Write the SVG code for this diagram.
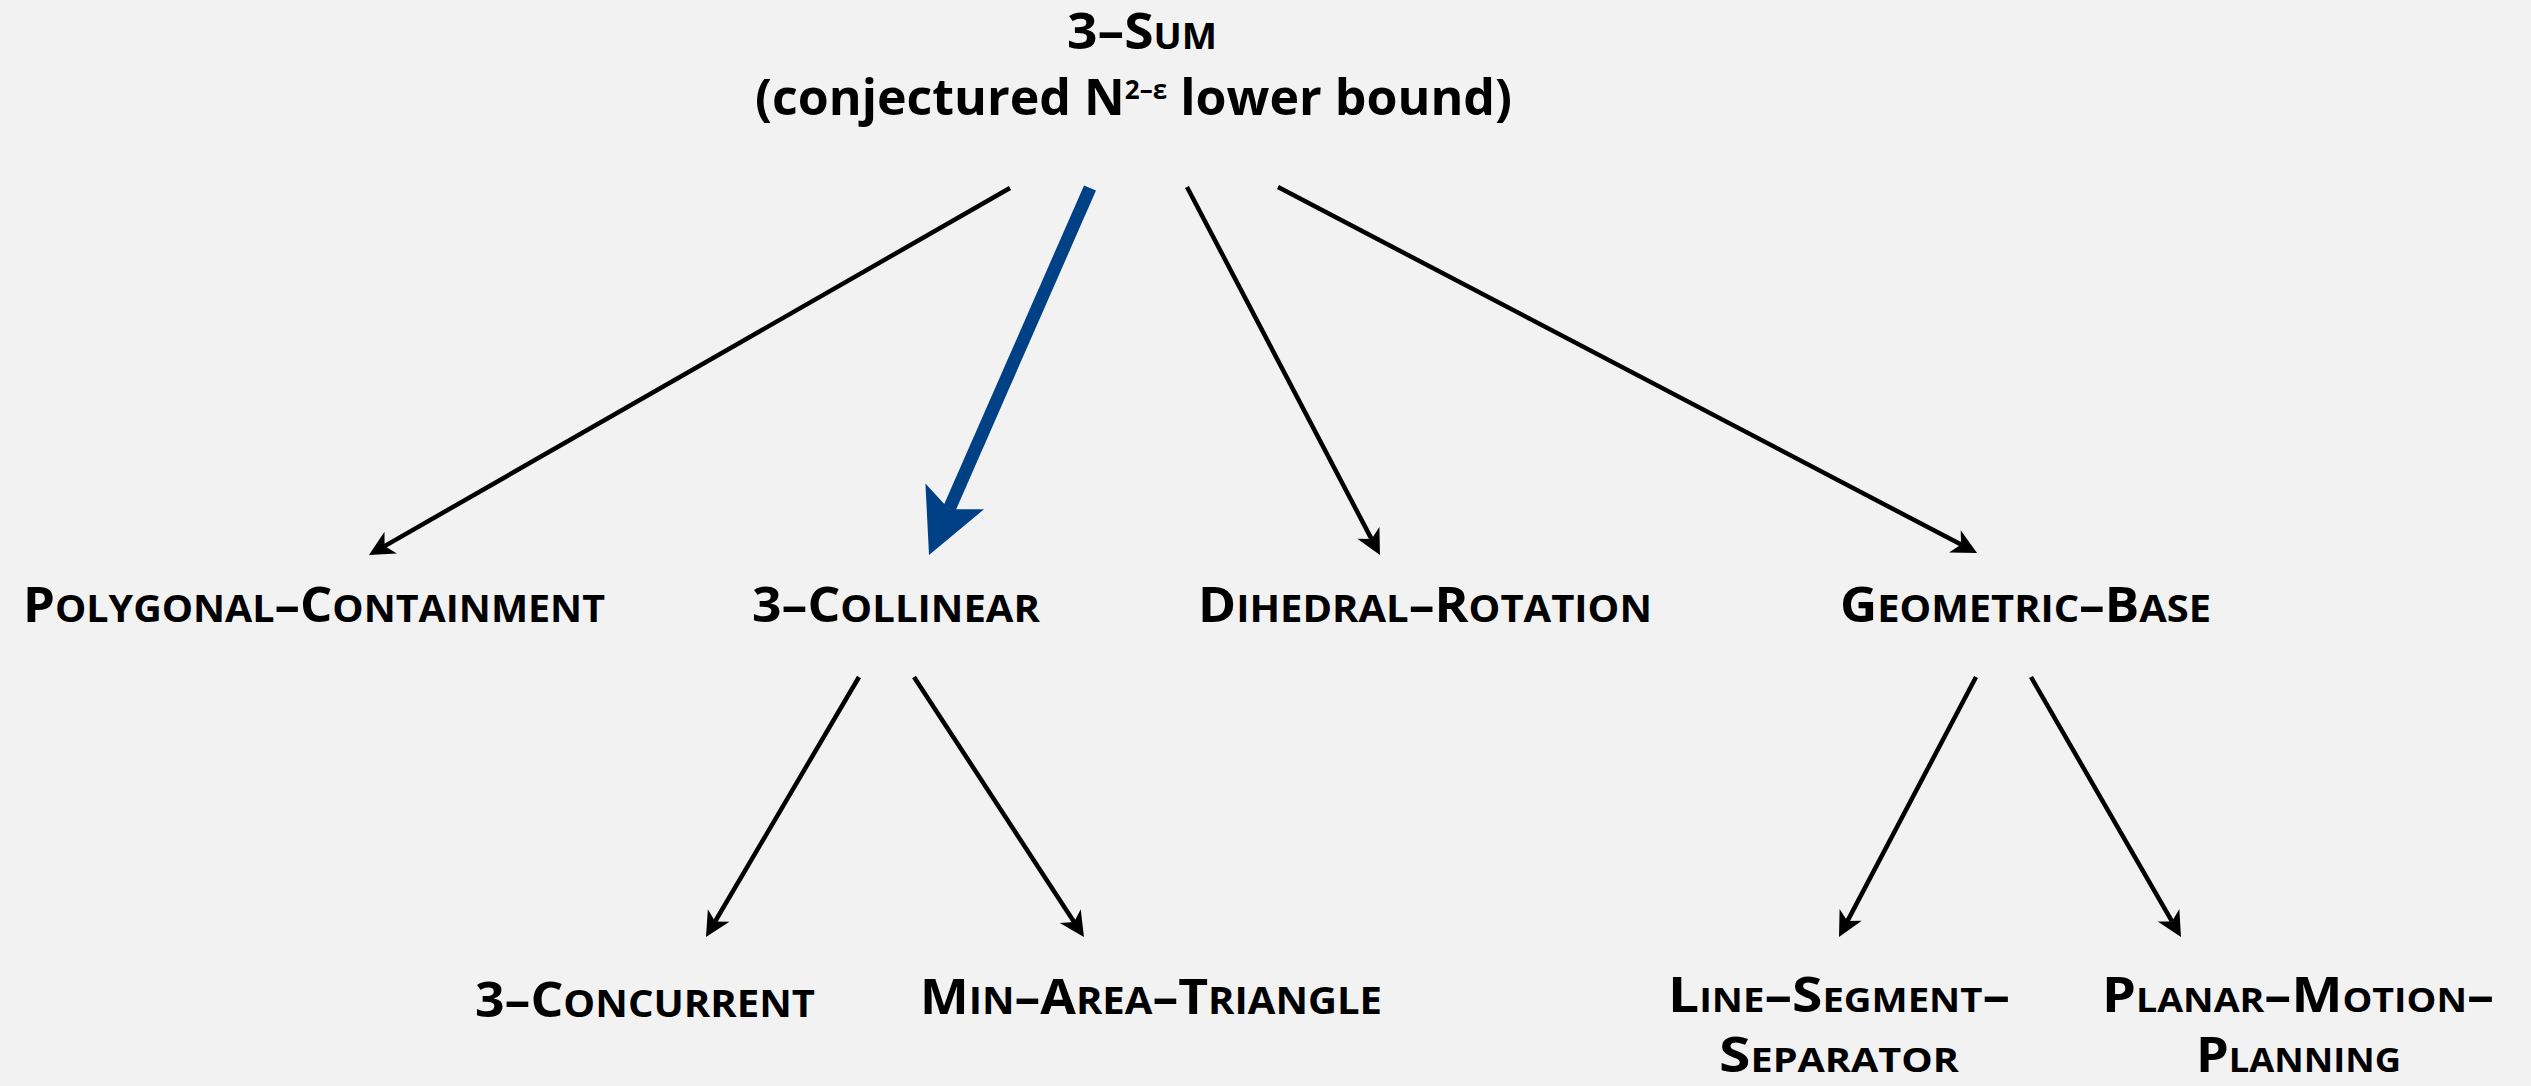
<svg xmlns="http://www.w3.org/2000/svg" width="2531" height="1086" viewBox="0 0 2531 1086">
<style>
.lbl { font-family: "Open Sans", "Liberation Sans", sans-serif; font-weight: 700; font-size: 49px; font-variant: small-caps; fill: #000; }
.lbl .sc { font-size: 54px; }
.title { font-family: "Open Sans", "Liberation Sans", sans-serif; font-weight: 700; font-size: 50px; fill: #000; }
.edge { stroke: #000; stroke-width: 4.5; fill: none; marker-end: url(#ah); }
.edge-hl { stroke: #004085; stroke-width: 13; fill: none; marker-end: url(#ahb); }
</style>
<defs>
<marker id="ah" markerUnits="userSpaceOnUse" orient="auto" refX="0" refY="0" markerWidth="1" markerHeight="1" overflow="visible">
<path d="M18,0 L-7,-12.5 L0,0 L-7,12.5 Z" fill="#000"/>
</marker>
<marker id="ahb" markerUnits="userSpaceOnUse" orient="auto" refX="0" refY="0" markerWidth="1" markerHeight="1" overflow="visible">
<path d="M50,0 L-14,-32 L0,0 L-14,32 Z" fill="#004085"/>
</marker>
</defs>
<rect x="0" y="0" width="2531" height="1086" fill="#f2f2f2"/>

<g id="connectors">
<line class="edge" x1="1010" y1="188" x2="384.6" y2="546.1"/>
<line class="edge-hl" x1="1090" y1="188" x2="949.1" y2="509.2"/>
<line class="edge" x1="1187" y1="187" x2="1371.6" y2="539.1"/>
<line class="edge" x1="1278" y1="187" x2="1961.1" y2="544.6"/>
<line class="edge" x1="859" y1="677" x2="715.1" y2="921.5"/>
<line class="edge" x1="914" y1="677" x2="1074.1" y2="921.9"/>
<line class="edge" x1="1976" y1="677" x2="1847.4" y2="921.1"/>
<line class="edge" x1="2031" y1="677" x2="2172" y2="921.4"/>
</g>

<g id="n-3sum">
<text class="title" x="1067" y="49" font-variant="small-caps" textLength="150" lengthAdjust="spacingAndGlyphs">3–Sum</text>
<text class="title" x="755" y="115" textLength="757" lengthAdjust="spacingAndGlyphs">(conjectured N<tspan font-size="26" dy="-16">2–ε</tspan><tspan dy="16"> lower bound)</tspan></text>
</g>

<g id="n-polygonal-containment">
<text class="lbl" x="23" y="622" textLength="582" lengthAdjust="spacingAndGlyphs">P<tspan class="sc">olygonal</tspan>–C<tspan class="sc">ontainment</tspan></text>
</g>
<g id="n-3-collinear">
<text class="lbl" x="752" y="622" textLength="288" lengthAdjust="spacingAndGlyphs">3–C<tspan class="sc">ollinear</tspan></text>
</g>
<g id="n-dihedral-rotation">
<text class="lbl" x="1198" y="622" textLength="454" lengthAdjust="spacingAndGlyphs">D<tspan class="sc">ihedral</tspan>–R<tspan class="sc">otation</tspan></text>
</g>
<g id="n-geometric-base">
<text class="lbl" x="1840" y="622" textLength="371" lengthAdjust="spacingAndGlyphs">G<tspan class="sc">eometric</tspan>–B<tspan class="sc">ase</tspan></text>
</g>
<g id="n-3-concurrent">
<text class="lbl" x="475" y="1017" textLength="340" lengthAdjust="spacingAndGlyphs">3–C<tspan class="sc">oncurrent</tspan></text>
</g>
<g id="n-min-area-triangle">
<text class="lbl" x="920" y="1014" textLength="462" lengthAdjust="spacingAndGlyphs">M<tspan class="sc">in</tspan>–A<tspan class="sc">rea</tspan>–T<tspan class="sc">riangle</tspan></text>
</g>
<g id="n-line-segment-separator">
<text class="lbl" x="1668" y="1012" textLength="342" lengthAdjust="spacingAndGlyphs">Line–Segment–</text>
<text class="lbl" x="1719" y="1072" textLength="240" lengthAdjust="spacingAndGlyphs">Separator</text>
</g>
<g id="n-planar-motion-planning">
<text class="lbl" x="2102" y="1012" textLength="392" lengthAdjust="spacingAndGlyphs">Planar–Motion–</text>
<text class="lbl" x="2196" y="1072" textLength="205" lengthAdjust="spacingAndGlyphs">Planning</text>
</g>
</svg>
